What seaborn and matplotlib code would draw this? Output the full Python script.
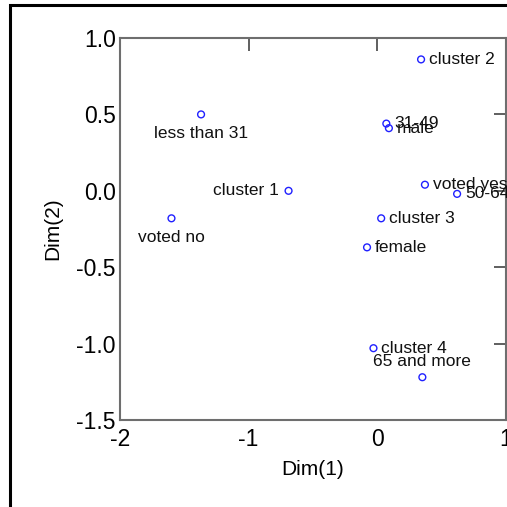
import numpy as np
import pandas as pd
import matplotlib
matplotlib.use("Agg")
import matplotlib.pyplot as plt
import seaborn as sns
from matplotlib.patches import Rectangle

# coordinates
labels = ["less than 31", "cluster 1", "voted no", "cluster 2", "31-49", "male",
          "voted yes", "50-64", "cluster 3", "female", "cluster 4", "65 and more"]
dim1 = [-1.37, -0.69, -1.60, 0.34, 0.07, 0.09, 0.37, 0.62, 0.03, -0.08, -0.03, 0.35]
dim2 = [0.50, 0.00, -0.18, 0.86, 0.44, 0.41, 0.04, -0.02, -0.18, -0.37, -1.03, -1.22]
# label placement: (dx, dy) in pixels, ha
where = {"less than 31": (0, -19, "center"), "voted no": (0, -19, "center"),
         "cluster 1": (-10, 0, "right"), "65 and more": (0, 16, "center")}

df = pd.DataFrame({"label": labels, "Dim(1)": dim1, "Dim(2)": dim2})

sns.set_style("white")
plt.rcParams["font.family"] = ["Liberation Sans", "DejaVu Sans"]
plt.rcParams["axes.unicode_minus"] = False
plt.rcParams["text.color"] = "black"
plt.rcParams["axes.labelcolor"] = "black"
plt.rcParams["xtick.color"] = "black"
plt.rcParams["ytick.color"] = "black"

fig = plt.figure(figsize=(5.07, 5.07), dpi=100)
ax = fig.add_axes([0.2367, 0.1716, 0.7613, 0.7534])

sns.scatterplot(data=df, x="Dim(1)", y="Dim(2)", ax=ax, marker="o", s=24,
                facecolor="none", edgecolor="#2020ff", linewidth=1.0)

for lab, x, y in zip(labels, dim1, dim2):
    dx, dy, ha = where.get(lab, (8, 0, "left"))
    ax.annotate(lab, (x, y), xytext=(dx, dy), textcoords="offset pixels",
                ha=ha, va="center", fontsize=12.5, color="#111111",
                annotation_clip=False)

ax.set_xlim(-2, 1)
ax.set_ylim(-1.5, 1.0)
ax.set_xticks([-2, -1, 0, 1])
ax.set_yticks([-1.5, -1.0, -0.5, 0.0, 0.5, 1.0])
ax.set_yticklabels(["-1.5", "-1.0", "-0.5", "0.0", "0.5", "1.0"])
ax.tick_params(direction="in", length=9, width=1.2, color="#444444",
               labelsize=16.5, top=True, right=True, pad=3)
ax.tick_params(axis="x", pad=6)
for sp in ax.spines.values():
    sp.set_color("#6e6e6e")
    sp.set_linewidth(1.5)
ax.set_xlabel("Dim(1)", fontsize=15, labelpad=6)
ax.set_ylabel("Dim(2)", fontsize=15, labelpad=10)

# outer frame of the original (cropped on right and bottom)
fig.patches.append(Rectangle((10 / 507, -0.5), 2, 1.5 - 5 / 507,
                             transform=fig.transFigure, fill=False,
                             edgecolor="black", linewidth=2.2))

fig.savefig("out.png", dpi=100)
